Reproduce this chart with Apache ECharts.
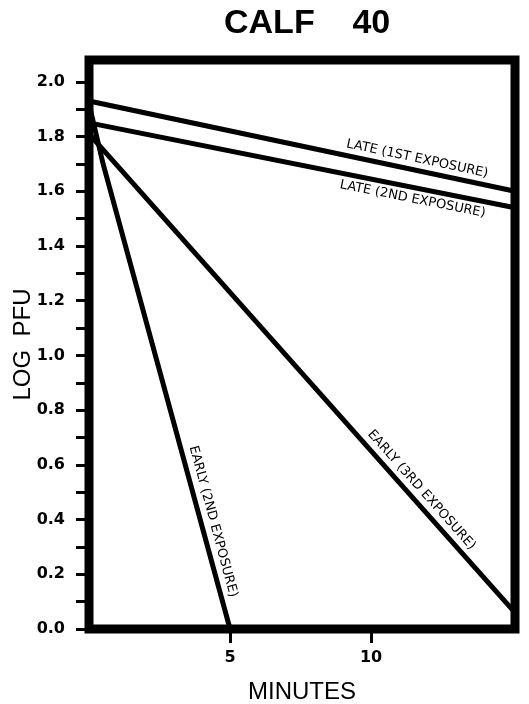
<!DOCTYPE html>
<html>
<head>
<meta charset="utf-8">
<script src="https://cdn.jsdelivr.net/npm/echarts@6/dist/echarts.min.js"></script>
<style>html,body{margin:0;padding:0;background:#fff;}#c{width:529px;height:704px;}</style>
</head>
<body>
<div id="c"></div>
<script>
// Data: [minutes, log PFU]
var late1st = [[0, 1.93], [15.1, 1.60]];
var late2nd = [[0, 1.85], [15.1, 1.54]];
var early2nd = [[0, 1.92], [0.5, 1.70], [5, 0]];
var early3rd = [[0, 1.81], [15.1, 0.06]];

var seriesNames = ['LATE (1ST EXPOSURE)', 'LATE (2ND EXPOSURE)', 'EARLY (2ND EXPOSURE)', 'EARLY (3RD EXPOSURE)'];

var yTickValues = [0, 0.1, 0.2, 0.3, 0.4, 0.5, 0.6, 0.7, 0.8, 0.9, 1.0, 1.1, 1.2, 1.3, 1.4, 1.5, 1.6, 1.7, 1.8, 1.9, 2.0];
var yLabelValues = [0, 0.2, 0.4, 0.6, 0.8, 1.0, 1.2, 1.4, 1.6, 1.8, 2.0];
var xTickValues = [5, 10];

var chart = echarts.init(document.getElementById('c'), null, {renderer: 'canvas'});

function mkSeries(name, data, pos, dist) {
  return {
    name: name,
    type: 'line',
    data: data,
    symbol: 'none',
    silent: true,
    lineStyle: {color: '#000', width: 5, cap: 'butt'},
    markLine: {
      silent: true,
      symbol: 'none',
      animation: false,
      lineStyle: {color: 'rgba(0,0,0,0)', width: 1, type: 'solid'},
      label: {
        show: true,
        opacity: 1,
        position: pos,
        distance: dist,
        formatter: name,
        color: '#000',
        fontFamily: 'DejaVu Sans',
        fontSize: 13
      },
      data: [[{coord: data[0]}, {coord: data[data.length - 1]}]]
    }
  };
}

chart.setOption({
  animation: false,
  backgroundColor: '#fff',
  title: {
    text: 'CALF    40',
    left: 224,
    top: 7,
    padding: 0,
    textStyle: {fontFamily: 'Liberation Sans', fontWeight: 'bold', fontSize: 34, color: '#000'}
  },
  grid: {
    left: 89, right: 14, top: 60, bottom: 75,
    outerBoundsMode: 'none',
    containLabel: false,
    show: true, borderWidth: 9, borderColor: '#000', backgroundColor: 'transparent'
  },
  xAxis: {
    type: 'value', min: 0, max: 15.1,
    name: 'MINUTES', nameLocation: 'middle', nameGap: 51, nameMoveOverlap: false,
    nameTextStyle: {fontFamily: 'Liberation Sans', fontSize: 24, color: '#000'},
    axisLine: {show: false},
    splitLine: {show: false},
    axisTick: {show: true, customValues: xTickValues, length: 14, lineStyle: {color: '#000', width: 3}},
    axisLabel: {customValues: xTickValues, margin: 21, fontFamily: 'DejaVu Sans', fontWeight: 'bold', fontSize: 16, color: '#000'}
  },
  yAxis: {
    type: 'value', min: 0, max: 2.08,
    name: 'LOG  PFU', nameLocation: 'middle', nameGap: 54, nameRotate: 90, nameMoveOverlap: false,
    nameTextStyle: {fontFamily: 'Liberation Sans', fontSize: 24, color: '#000'},
    axisLine: {show: false},
    splitLine: {show: false},
    axisTick: {show: true, customValues: yTickValues, length: 13, lineStyle: {color: '#000', width: 3}},
    axisLabel: {customValues: yLabelValues, margin: 24, fontFamily: 'DejaVu Sans', fontWeight: 'bold', fontSize: 16, color: '#000',
      formatter: function (v) { return v.toFixed(1); }}
  },
  series: [
    mkSeries(seriesNames[0], late1st, 'insideEndTop', [30, 5]),
    mkSeries(seriesNames[1], late2nd, 'insideEndBottom', [28, 5]),
    mkSeries(seriesNames[2], early2nd, 'insideEndTop', [30, 5]),
    mkSeries(seriesNames[3], early3rd, 'insideEndTop', [76, 5])
  ]
});
</script>
</body>
</html>
